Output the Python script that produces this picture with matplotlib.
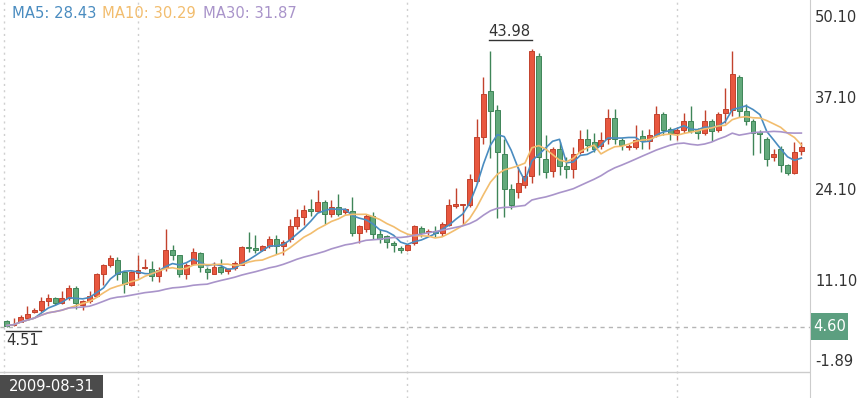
import numpy as np
import pandas as pd
import matplotlib
matplotlib.use('Agg')
import matplotlib.pyplot as plt
from matplotlib.patches import Rectangle
from matplotlib.transforms import offset_copy, blended_transform_factory

# weekly candles (open, high, low, close)
opens = [5.47, 4.9, 5.3, 5.9, 6.7, 6.9, 8.2, 8.6, 8.0, 8.6,
         10.1, 7.7, 8.3, 9.0, 12.1, 13.3, 14.0, 12.3, 10.5, 12.2,
         12.9, 12.7, 11.8, 12.9, 15.5, 14.7, 12.1, 13.5, 15.0, 12.8,
         12.1, 13.1, 12.5, 12.9, 13.4, 15.8, 15.8, 15.5, 16.0, 17.0,
         16.0, 17.0, 18.8, 20.1, 21.2, 21.0, 22.3, 20.5, 21.5, 20.9,
         21.0, 17.8, 18.5, 20.3, 17.7, 17.4, 16.4, 15.7, 15.5, 16.5,
         18.6, 18.0, 18.2, 17.8, 19.0, 21.7, 21.8, 21.9, 25.2, 31.5,
         38.0, 35.3, 29.1, 24.1, 23.7, 24.7, 25.9, 43.0, 28.3, 26.6,
         29.7, 27.4, 27.0, 29.4, 31.2, 30.8, 30.2, 31.2, 34.1, 31.0,
         30.0, 30.0, 31.6, 30.9, 31.8, 34.7, 32.6, 32.0, 32.4, 33.7,
         32.5, 32.1, 33.8, 32.4, 34.8, 35.3, 39.9, 35.1, 33.8, 32.2,
         31.2, 28.6, 29.8, 27.5, 26.4, 29.5]
highs = [5.6, 5.8, 6.2, 7.5, 7.2, 8.8, 9.2, 8.8, 9.6, 10.5,
         10.3, 8.4, 9.6, 12.2, 13.5, 14.8, 14.4, 12.4, 12.5, 14.8,
         14.2, 13.9, 13.0, 18.5, 16.1, 14.8, 13.6, 15.8, 15.2, 13.0,
         13.7, 14.2, 12.9, 13.9, 16.0, 18.0, 17.6, 16.2, 17.5, 17.6,
         16.9, 19.8, 21.2, 21.8, 22.7, 24.0, 22.5, 22.6, 23.4, 21.4,
         22.9, 19.0, 20.5, 20.8, 18.4, 17.6, 16.8, 16.0, 16.3, 19.0,
         18.8, 18.5, 18.9, 19.4, 22.7, 24.2, 22.0, 26.2, 34.0, 40.0,
         43.7, 36.0, 31.2, 24.8, 27.2, 27.3, 43.98, 43.3, 31.8, 30.0,
         30.8, 28.6, 30.1, 32.5, 32.6, 32.1, 32.2, 35.4, 35.5, 31.3,
         30.5, 33.1, 32.5, 32.6, 35.8, 35.0, 32.9, 32.9, 34.8, 35.8,
         32.7, 35.3, 34.0, 35.0, 38.4, 43.6, 40.2, 36.2, 34.0, 32.4,
         31.5, 29.8, 30.2, 27.6, 30.8, 30.8]
lows = [4.51, 4.7, 5.2, 5.8, 6.5, 6.7, 7.5, 7.7, 7.8, 8.4,
        7.1, 6.9, 8.0, 8.8, 10.5, 13.0, 11.2, 9.4, 10.3, 11.5,
        12.7, 11.1, 11.0, 12.5, 14.0, 11.7, 11.4, 13.3, 12.4, 11.3,
        12.0, 12.0, 12.0, 12.6, 13.3, 15.2, 15.0, 15.3, 15.8, 14.9,
        14.8, 16.6, 18.5, 19.0, 20.3, 20.8, 19.1, 20.2, 20.3, 20.5,
        17.5, 16.5, 18.0, 17.0, 16.4, 15.8, 15.2, 15.0, 15.3, 16.2,
        17.3, 17.6, 17.3, 17.4, 18.9, 21.4, 19.0, 21.5, 25.0, 30.5,
        28.5, 20.0, 20.2, 21.2, 22.8, 24.2, 25.0, 26.1, 25.7, 25.8,
        26.1, 25.7, 25.7, 29.0, 29.5, 29.3, 29.8, 30.5, 30.5, 29.6,
        29.6, 29.8, 29.8, 29.8, 31.5, 31.7, 31.0, 31.1, 32.1, 32.0,
        31.2, 31.8, 30.9, 32.2, 33.4, 34.5, 34.3, 33.1, 28.9, 29.2,
        27.3, 28.0, 26.5, 26.1, 26.2, 28.9]
closes = [4.76, 5.0, 6.0, 6.4, 6.9, 8.3, 8.6, 7.9, 8.6, 10.1,
          7.9, 8.2, 8.9, 12.0, 13.4, 14.3, 12.0, 10.6, 12.3, 12.6,
          13.1, 11.8, 12.6, 15.5, 14.7, 12.1, 13.4, 15.2, 13.1, 12.4,
          13.1, 12.4, 12.7, 13.6, 15.9, 15.7, 15.5, 16.0, 17.0, 16.0,
          16.6, 18.8, 20.2, 21.1, 21.0, 22.3, 20.6, 21.5, 20.6, 21.2,
          17.8, 18.8, 20.3, 17.7, 17.0, 16.6, 16.1, 15.5, 16.1, 18.9,
          17.8, 18.2, 17.8, 19.2, 21.9, 22.0, 21.9, 25.5, 31.4, 37.5,
          35.2, 29.4, 24.1, 21.8, 25.0, 25.9, 43.6, 28.6, 26.5, 29.7,
          27.3, 27.0, 29.1, 31.2, 30.4, 29.8, 31.1, 34.1, 31.2, 30.4,
          30.2, 31.1, 30.9, 31.8, 34.7, 32.4, 32.0, 32.5, 33.7, 32.3,
          32.0, 33.8, 32.3, 34.7, 35.5, 40.4, 35.1, 33.7, 32.1, 31.9,
          28.4, 29.1, 27.5, 26.4, 29.4, 30.0]

start_date = '2009-08-31'
ma_periods = [5, 10, 30]
ma_texts = ['MA5: 28.43', 'MA10: 30.29', 'MA30: 31.87']
y_ticks = [50.10, 37.10, 24.10, 11.10, -1.89]
ref_price = 4.60
grid_idx = [19, 58, 97]

UP, UP_EDGE = '#e8573f', '#c2422d'
DOWN, DOWN_EDGE = '#62a97b', '#3f8558'
ma_colors = ['#4a8cc0', '#f2bd6e', '#a994ca']
TXT = '#333333'
FS = 10.6

W, H = 865, 398
fig = plt.figure(figsize=(W / 100, H / 100), dpi=100)
ax = fig.add_axes([0, 0, 810 / W, 1])

o, h, l, c = (np.array(v) for v in (opens, highs, lows, closes))
x = np.arange(len(c))
up = c >= o
face = np.where(up, UP, DOWN)
edge = np.where(up, UP_EDGE, DOWN_EDGE)

ax.vlines(x, l, h, colors=edge, lw=1, zorder=3)
ax.bar(x, np.maximum(np.abs(c - o), 0.15), bottom=np.minimum(o, c), width=0.72,
       color=face, edgecolor=edge, linewidth=0.7, zorder=4)

s = pd.Series(c)
for p, col in zip(ma_periods, ma_colors):
    ax.plot(x, s.rolling(p, min_periods=1).mean(), color=col, lw=1.2, zorder=5)

ax.set_xlim(-0.97, 116.25)
ax.set_ylim(-5.50, 50.87)
ax.set_xticks([])
ax.set_yticks([])
for sp in ['top', 'left', 'bottom']:
    ax.spines[sp].set_visible(False)
ax.spines['right'].set_color('#cccccc')

# grid
for g in grid_idx:
    ax.axvline(g, color='#cfcfcf', lw=1, ls=(0, (1.5, 3)), zorder=1)
ax.axvline(-0.4, color='#cfcfcf', lw=1, ls=(0, (1.5, 3)), zorder=1)
ax.axhline(ref_price, color='#b5b5b5', lw=1, ls=(0, (3, 3)), zorder=1)
ax.plot([0, 1], [26 / H, 26 / H], transform=ax.transAxes, color='#cccccc', lw=1)

# right-hand price labels
ytr = ax.get_yaxis_transform()
shifts = {0: -12.5, len(y_ticks) - 1: 11.5}
for k, v in enumerate(y_ticks):
    tr = offset_copy(ytr, fig=fig, y=shifts.get(k, -1), units='dots')
    ax.text(815 / 810, v, f'{v:.2f}', transform=tr, ha='left', va='center',
            fontsize=FS, color=TXT, clip_on=False)

# reference price box
bt = blended_transform_factory(fig.transFigure, ax.transData)
bh = 27 / 7.06
fig.add_artist(Rectangle((811 / W, ref_price - bh / 2), 37 / W, bh, transform=bt,
                         facecolor='#5c9f80', edgecolor='none'))
fig.text(829.5 / W, ref_price, f'{ref_price:.2f}', transform=bt, ha='center',
         va='center', fontsize=FS, color='white')

# max / min markers
imax = int(np.argmax(h))
imin = int(np.argmin(l))
tr = offset_copy(ax.transData, fig=fig, y=9, units='dots')
ax.plot([imax - 43 / 6.91, imax], [h[imax], h[imax]], transform=tr, color=TXT, lw=1)
ax.text(imax - 0.2, h[imax], f'{h[imax]:.2f}', ha='right', va='bottom', fontsize=FS,
        color=TXT, transform=offset_copy(ax.transData, fig=fig, y=10, units='dots'))
tr = offset_copy(ax.transData, fig=fig, y=-4, units='dots')
ax.plot([imin - 0.1, imin + 34 / 6.91], [l[imin], l[imin]], transform=tr, color=TXT, lw=1)
ax.text(imin - 0.1, l[imin], f'{l[imin]:.2f}', ha='left', va='top', fontsize=FS,
        color=TXT, transform=offset_copy(ax.transData, fig=fig, y=-6, units='dots'))

# MA legend
for txt, col, px in zip(ma_texts, ma_colors, [12, 102, 203]):
    fig.text(px / W, 1 - 14 / H, txt, color=col, fontsize=FS, ha='left', va='center')

# date box
fig.add_artist(Rectangle((0, 0), 103 / W, 23 / H, transform=fig.transFigure,
                         facecolor='#4b4b4b', edgecolor='none'))
fig.text(51.5 / W, 11.5 / H, start_date, color='white', fontsize=FS, ha='center', va='center')

fig.savefig('out.png', dpi=100)
